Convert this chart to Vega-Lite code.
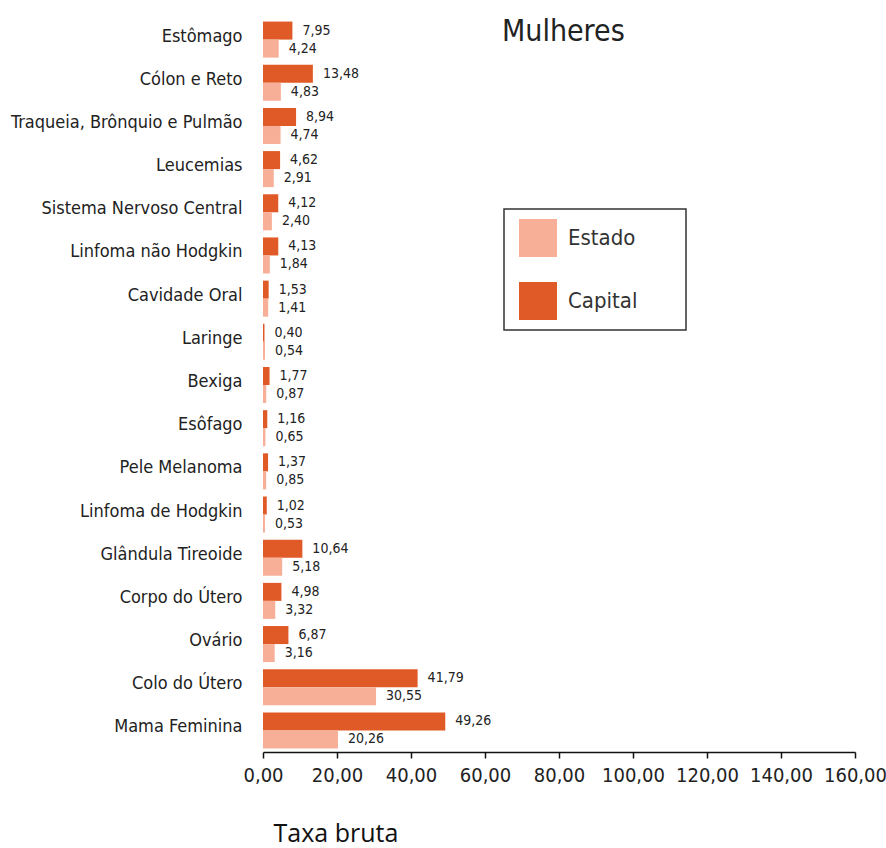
{
  "$schema": "https://vega.github.io/schema/vega-lite/v6.json",
  "autosize": {"type": "none"},
  "width": 592,
  "height": 734,
  "padding": {"left": 263, "top": 18, "right": 31, "bottom": 96},
  "background": "#ffffff",
  "title": {
    "text": "Mulheres",
    "anchor": "start",
    "frame": "group",
    "dx": 239,
    "dy": 57,
    "baseline": "alphabetic",
    "fontSize": 30,
    "fontWeight": "normal",
    "color": "#222222"
  },
  "data": {
    "values": [
      {"cancer": "Estômago", "serie": "Capital", "taxa": 7.95},
      {"cancer": "Estômago", "serie": "Estado", "taxa": 4.24},
      {"cancer": "Cólon e Reto", "serie": "Capital", "taxa": 13.48},
      {"cancer": "Cólon e Reto", "serie": "Estado", "taxa": 4.83},
      {"cancer": "Traqueia, Brônquio e Pulmão", "serie": "Capital", "taxa": 8.94},
      {"cancer": "Traqueia, Brônquio e Pulmão", "serie": "Estado", "taxa": 4.74},
      {"cancer": "Leucemias", "serie": "Capital", "taxa": 4.62},
      {"cancer": "Leucemias", "serie": "Estado", "taxa": 2.91},
      {"cancer": "Sistema Nervoso Central", "serie": "Capital", "taxa": 4.12},
      {"cancer": "Sistema Nervoso Central", "serie": "Estado", "taxa": 2.40},
      {"cancer": "Linfoma não Hodgkin", "serie": "Capital", "taxa": 4.13},
      {"cancer": "Linfoma não Hodgkin", "serie": "Estado", "taxa": 1.84},
      {"cancer": "Cavidade Oral", "serie": "Capital", "taxa": 1.53},
      {"cancer": "Cavidade Oral", "serie": "Estado", "taxa": 1.41},
      {"cancer": "Laringe", "serie": "Capital", "taxa": 0.40},
      {"cancer": "Laringe", "serie": "Estado", "taxa": 0.54},
      {"cancer": "Bexiga", "serie": "Capital", "taxa": 1.77},
      {"cancer": "Bexiga", "serie": "Estado", "taxa": 0.87},
      {"cancer": "Esôfago", "serie": "Capital", "taxa": 1.16},
      {"cancer": "Esôfago", "serie": "Estado", "taxa": 0.65},
      {"cancer": "Pele Melanoma", "serie": "Capital", "taxa": 1.37},
      {"cancer": "Pele Melanoma", "serie": "Estado", "taxa": 0.85},
      {"cancer": "Linfoma de Hodgkin", "serie": "Capital", "taxa": 1.02},
      {"cancer": "Linfoma de Hodgkin", "serie": "Estado", "taxa": 0.53},
      {"cancer": "Glândula Tireoide", "serie": "Capital", "taxa": 10.64},
      {"cancer": "Glândula Tireoide", "serie": "Estado", "taxa": 5.18},
      {"cancer": "Corpo do Útero", "serie": "Capital", "taxa": 4.98},
      {"cancer": "Corpo do Útero", "serie": "Estado", "taxa": 3.32},
      {"cancer": "Ovário", "serie": "Capital", "taxa": 6.87},
      {"cancer": "Ovário", "serie": "Estado", "taxa": 3.16},
      {"cancer": "Colo do Útero", "serie": "Capital", "taxa": 41.79},
      {"cancer": "Colo do Útero", "serie": "Estado", "taxa": 30.55},
      {"cancer": "Mama Feminina", "serie": "Capital", "taxa": 49.26},
      {"cancer": "Mama Feminina", "serie": "Estado", "taxa": 20.26}
    ]
  },
  "encoding": {
    "y": {
      "field": "cancer",
      "type": "nominal",
      "sort": null,
      "scale": {"paddingInner": 0.165, "paddingOuter": 0.0825},
      "axis": {
        "title": null,
        "domain": false,
        "ticks": false,
        "labelPadding": 21,
        "labelOffset": -3,
        "labelFontSize": 18,
        "labelColor": "#222222",
        "labelLimit": 400
      }
    },
    "yOffset": {
      "field": "serie",
      "type": "nominal",
      "sort": ["Capital", "Estado"]
    },
    "x": {
      "field": "taxa",
      "type": "quantitative",
      "scale": {"domain": [0, 160], "nice": false},
      "axis": {
        "title": "Taxa bruta",
        "values": [0, 20, 40, 60, 80, 100, 120, 140, 160],
        "format": ".2f",
        "grid": false,
        "domainColor": "#111111",
        "domainWidth": 1.5,
        "tickColor": "#111111",
        "tickWidth": 1.5,
        "tickSize": 6,
        "labelFontSize": 20,
        "labelPadding": 7,
        "labelColor": "#222222",
        "labelFlush": false,
        "labelOverlap": false,
        "titleFont": "Open Sans",
        "titleFontSize": 25,
        "titleFontWeight": "normal",
        "titleColor": "#111111",
        "titleAnchor": "start",
        "titleAlign": "left",
        "titleBaseline": "alphabetic",
        "titleX": 10,
        "titleY": 89
      }
    }
  },
  "layer": [
    {
      "mark": {"type": "bar"},
      "encoding": {
        "color": {
          "field": "serie",
          "type": "nominal",
          "scale": {"domain": ["Estado", "Capital"], "range": ["#F8AF98", "#E05A27"]},
          "legend": {
            "title": null,
            "orient": "none",
            "legendX": 241,
            "legendY": 191,
            "direction": "vertical",
            "strokeColor": "#333333",
            "fillColor": "#ffffff",
            "padding": 10,
            "symbolType": "square",
            "symbolSize": 1444,
            "symbolOffset": 5,
            "symbolStrokeWidth": 0,
            "symbolOpacity": 1,
            "rowPadding": 25,
            "labelOffset": 11,
            "labelFontSize": 22,
            "labelColor": "#333333",
            "labelExpr": "datum.label + '\u00a0\u00a0\u00a0\u00a0\u00a0\u00a0\u200b'",
            "encode": {"legend": {"update": {"strokeWidth": {"value": 1.5}}}}
          }
        }
      }
    },
    {
      "mark": {"type": "text", "align": "left", "baseline": "middle", "dx": 10, "fontSize": 14, "color": "#222222"},
      "encoding": {
        "text": {"field": "taxa", "type": "quantitative", "format": ".2f"}
      }
    }
  ],
  "config": {
    "font": "DejaVu Sans Condensed, sans-serif",
    "view": {"stroke": null},
    "locale": {
      "number": {"decimal": ",", "thousands": ".", "grouping": [3], "currency": ["R$", ""]}
    }
  }
}
